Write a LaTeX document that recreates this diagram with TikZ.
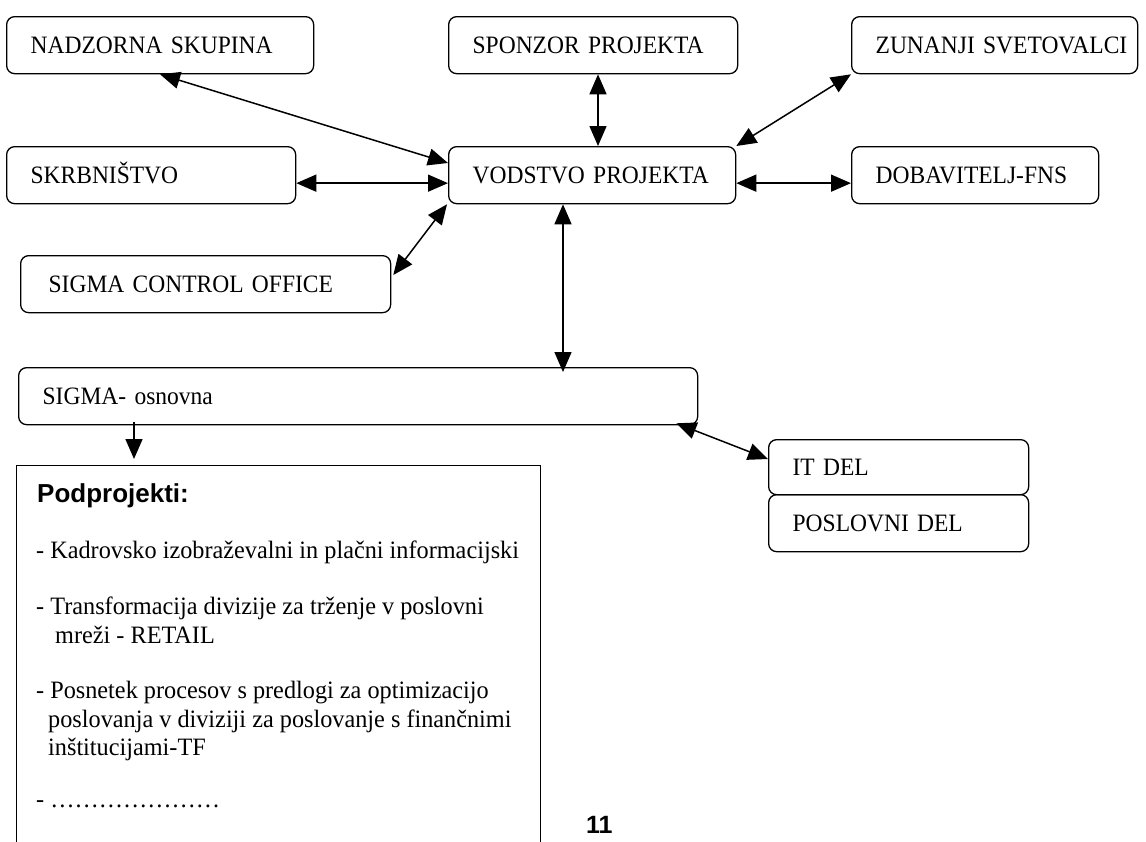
\documentclass[tikz,border=0pt]{standalone}
\usepackage{fontspec}
\setmainfont{Liberation Serif}[FakeStretch=0.94]
\newfontfamily\bodyfont{Liberation Serif}[FakeStretch=0.97]
\newfontfamily\headsans{Liberation Sans}
\usetikzlibrary{arrows.meta,calc}

\tikzset{
  pad/.store in=\labpad, pad=24pt,
  lab/.style={font=\fontsize{25}{29}\selectfont},
  box/.style={draw, line width=1.3pt, rounded corners=8pt, anchor=north west,
    minimum height=57pt, inner xsep=0pt, inner ysep=0pt, align=left,
    text width=#1pt, text height=21pt, text depth=5pt, lab,
    execute at begin node={\hspace*{\labpad}}},
  txt/.style={anchor=base west, inner sep=0pt, font=\bodyfont\fontsize{25}{29}\selectfont},
  link/.style={line width=1.5pt, {Triangle[length=20pt,width=17pt]}-{Triangle[length=20pt,width=17pt]}},
  feed/.style={line width=1.5pt, -{Triangle[length=20pt,width=17pt]}}
}

\begin{document}
\begin{tikzpicture}[x=1pt,y=-1pt]
\useasboundingbox (0,0) rectangle (1146,841);
\clip (0,0) rectangle (1146,841);

% top row
\node[box=307] (nad) at (6,16)   {NADZORNA SKUPINA};
\node[box=289] (spo) at (448,16) {SPONZOR PROJEKTA};
\node[box=286] (zun) at (851,16) {ZUNANJI SVETOVALCI};

% middle row
\node[box=289] (skr) at (6,146)   {SKRBNIŠTVO};
\node[box=287] (vod) at (448,146) {VODSTVO PROJEKTA};
\node[box=247] (dob) at (851,146) {DOBAVITELJ-FNS};

\node[box=370, pad=28pt] (sco) at (20,255) {SIGMA CONTROL OFFICE};

% base project and its parts
\node[box=679] (osn) at (18,367) {SIGMA- osnovna};
\node[box=260, minimum height=55pt] (itd) at (768,439) {IT DEL};
\node[box=260] (pos) at (768,494) {POSLOVNI DEL};

% sub-project frame (runs off the bottom of the page)
\node[draw, line width=1.3pt, anchor=north west, minimum width=524pt,
      minimum height=420pt, inner sep=0pt] (pod) at (16,465) {};

\node[txt, font=\headsans\bfseries\fontsize{26}{30}\selectfont] (p0) at (37,502) {Podprojekti:};
\node[txt] (p1) at (36,558) {- Kadrovsko izobraževalni in plačni informacijski};
\node[txt] (p2) at (36,614) {- Transformacija divizije za trženje v poslovni};
\node[txt] (p3) at (55,643) {mreži - RETAIL};
\node[txt] (p4) at (36,698) {- Posnetek procesov s predlogi za optimizacijo};
\node[txt] (p5) at (48,727) {poslovanja v diviziji za poslovanje s finančnimi};
\node[txt] (p6) at (48,755) {inštitucijami-TF};
\node[txt] (p7) at (36,807) {- …………………};

\node[txt, font=\headsans\bfseries\fontsize{25}{30}\selectfont] (pg) at (586,833) {11};

% connectors
\draw[link] ($(nad.south west)+(154,0)$) -- ($(vod.north west)+(0,17)$);
\draw[link] ($(spo.south west)+(150,0)$) -- ($(vod.north west)+(150,0)$);
\draw[link] (zun.south west) -- (vod.north east);
\draw[link] ($(skr.east)+(0,8)$) -- ($(vod.west)+(0,8)$);
\draw[link] ($(vod.east)+(0,8)$) -- ($(dob.west)+(0,8)$);
\draw[link] ($(sco.north east)+(2,20)$) -- ($(vod.south west)+(-1,0)$);
\draw[link] ($(vod.south west)+(115,0)$) -- ($(osn.north west)+(545,5)$);
\draw[link] ($(osn.south east)+(-22,-2)$) -- ($(itd.north west)+(0,20)$);
\draw[feed] ($(osn.south west)+(116,-3)$) -- ($(pod.north west)+(118,-6)$);
\end{tikzpicture}
\end{document}
